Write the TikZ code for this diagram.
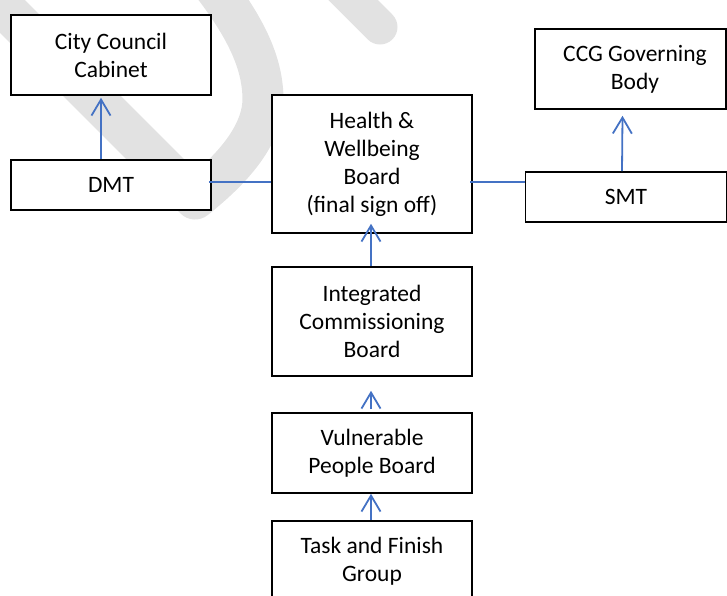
\documentclass[tikz,border=0pt]{standalone}
\usepackage{fontspec}
\setmainfont{Carlito}
\usetikzlibrary{arrows.meta,calc}
\definecolor{ablue}{RGB}{68,114,196}
\definecolor{wm}{RGB}{226,226,226}
\begin{document}
\begin{tikzpicture}[x=1pt,y=-1pt,
  box/.style={draw=black,line width=1.6pt,fill=white,align=center,inner sep=0pt,
              font=\fontsize{23.5}{28}\selectfont},
  arr/.style={draw=ablue,line width=1.8pt,-{Straight Barb[length=16pt,width=19pt]}},
  conn/.style={draw=ablue,line width=1.8pt}]
\useasboundingbox (0,0) rectangle (727,595);
% watermark
\draw[wm,line width=41pt,line join=round]
  (-40,-36) -- (195,199) .. controls (225,175) and (262,140) .. (263,100)
  .. controls (263,62) and (245,25) .. (205,-25);
\draw[wm,line width=35pt,line cap=round] (313,-40) -- (380,27);
% boxes
\node[box,minimum width=200pt,minimum height=80pt] (ccc) at (111,55) {City Council\\Cabinet};
\node[box,minimum width=200pt,minimum height=50pt] (dmt) at (111,185) {DMT};
\node[box,minimum width=200pt,minimum height=138pt] (hwb) at (372,164) {Health \&\\Wellbeing\\Board\\(final sign off)};
\node[box,minimum width=191pt,minimum height=80pt] (ccg) at (630.5,69) {\hspace*{9pt}CCG Governing\\\hspace*{9pt}Body};
\node[box,minimum width=201pt,minimum height=50pt] (smt) at (626,197) {SMT};
\node[box,minimum width=200pt,minimum height=109pt] (icb) at (372,321.5) {Integrated\\Commissioning\\Board};
\node[box,minimum width=200pt,minimum height=80pt] (vpb) at (372,453) {Vulnerable\\People Board};
\node[box,minimum width=200pt,minimum height=80pt] (tfg) at (372,561) {Task and Finish\\Group};
% connectors
\coordinate (l1) at ([shift={(-3pt,3pt)}]dmt.east);
\coordinate (r1) at ([yshift=15pt]smt.west);
\draw[arr] ([xshift=-10pt]dmt.north) -- ([xshift=-10pt,yshift=-2pt]ccc.south);
\draw[conn] (l1) -- (l1 -| hwb.west);
\draw[conn] (r1) -- ($(r1 -| hwb.east)+(-3pt,0)$);
\draw[arr] ([xshift=-4pt]smt.north) -- ([xshift=-8pt,yshift=-6pt]ccg.south);
\draw[arr] ([xshift=-1pt]icb.north) -- ([xshift=-1pt,yshift=10pt]hwb.south);
\draw[arr] ([xshift=-1pt,yshift=3pt]vpb.north) -- ([xshift=-1pt,yshift=-14pt]icb.south);
\draw[arr] ([xshift=-1pt]tfg.north) -- ([xshift=-1pt]vpb.south);
\end{tikzpicture}
\end{document}
